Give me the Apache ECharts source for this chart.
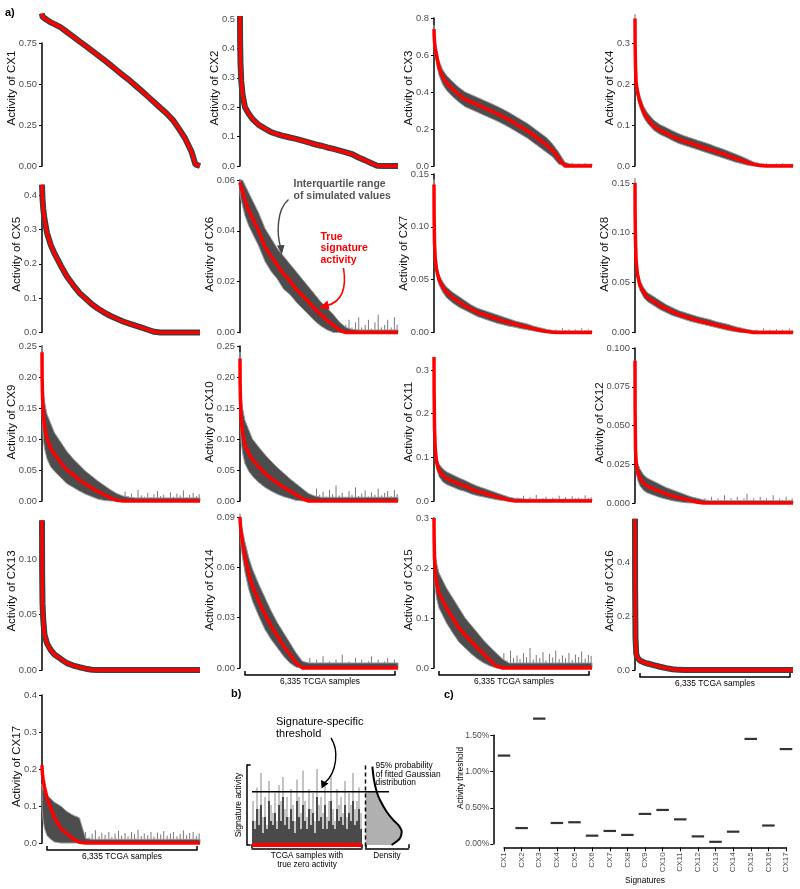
<!DOCTYPE html>
<html><head><meta charset="utf-8">
<script src="https://cdn.jsdelivr.net/npm/echarts@6/dist/echarts.min.js"></script>
<style>html,body{margin:0;padding:0;background:#fff}#c{width:800px;height:889px}</style>
</head><body><div id="c"></div>
<script>
// ---------- DATA ----------
const samplePos=[0,5,20,50,100,200,350,500,750,1000,1250,1500,1750,2000,2250,2500,2750,3000,3250,3500,3750,4000,4250,4500,4750,5000,5250,5500,5750,6000,6150,6335];
const spikePos=[1230,1370,1480,1620,1750,1890,2010,2140,2290,2400,2530,2680,2800,2930,3070,3190,3330,3450,3590,3710,3850,3980,4100,4240,4370,4490,4630,4760,4880,5020,5150,5270,5410,5540,5670,5800,5920,6060,6190,6300];

const cx1Red=[0.93,0.92,0.91,0.905,0.9,0.89,0.876,0.865,0.845,0.817,0.789,0.76,0.732,0.703,0.675,0.645,0.615,0.584,0.553,0.523,0.49,0.457,0.423,0.389,0.354,0.32,0.28,0.225,0.165,0.085,0.01,0];
const cx2Red=[0.51,0.42,0.35,0.29,0.245,0.2,0.178,0.16,0.14,0.127,0.115,0.108,0.102,0.097,0.092,0.086,0.08,0.074,0.069,0.063,0.058,0.052,0.046,0.04,0.029,0.02,0.01,0.001,0,0,0,0];
const cx3Red=[0.74,0.71,0.67,0.63,0.6,0.53,0.48,0.45,0.415,0.385,0.36,0.345,0.33,0.315,0.3,0.285,0.268,0.25,0.23,0.21,0.19,0.165,0.14,0.115,0.085,0.04,0,0,0,0,0,0];
const cx3Up=[0.76,0.74,0.7,0.67,0.64,0.57,0.52,0.49,0.455,0.425,0.4,0.385,0.37,0.355,0.34,0.325,0.308,0.29,0.27,0.25,0.23,0.205,0.18,0.155,0.12,0.075,0.02,0.01,0.01,0.01,0.01,0.01];
const cx3Lo=[0.72,0.68,0.64,0.59,0.56,0.49,0.44,0.41,0.375,0.345,0.32,0.305,0.29,0.275,0.26,0.245,0.228,0.21,0.19,0.17,0.15,0.125,0.1,0.075,0.05,0.01,0,0,0,0,0,0];
const cx4Red=[0.36,0.3,0.24,0.2,0.18,0.155,0.13,0.115,0.097,0.087,0.08,0.072,0.065,0.06,0.055,0.05,0.045,0.04,0.035,0.03,0.025,0.019,0.014,0.009,0.004,0.001,0,0,0,0,0,0];
const cx4Up=[0.37,0.32,0.26,0.215,0.195,0.17,0.145,0.13,0.112,0.101,0.094,0.086,0.079,0.073,0.068,0.063,0.058,0.053,0.047,0.042,0.036,0.03,0.024,0.017,0.01,0.006,0.004,0.004,0.004,0.004,0.004,0.004];
const cx4Lo=[0.35,0.28,0.22,0.185,0.165,0.142,0.118,0.104,0.087,0.077,0.07,0.062,0.055,0.05,0.045,0.04,0.035,0.03,0.025,0.02,0.015,0.01,0.006,0.002,0,0,0,0,0,0,0,0];
const cx5Red=[0.43,0.42,0.39,0.36,0.33,0.29,0.255,0.23,0.195,0.163,0.138,0.115,0.099,0.082,0.069,0.058,0.048,0.04,0.032,0.026,0.02,0.014,0.008,0.002,0,0,0,0,0,0,0,0];
const cx6Red=[0.059,0.0585,0.058,0.057,0.0555,0.052,0.048,0.045,0.04,0.0337,0.03,0.0265,0.023,0.0205,0.017,0.0145,0.012,0.0092,0.007,0.0047,0.0028,0.0008,0,0,0,0,0,0,0,0,0,0];
const cx6Up=[0.06,0.06,0.06,0.06,0.06,0.058,0.055,0.052,0.047,0.041,0.037,0.033,0.03,0.027,0.024,0.021,0.018,0.015,0.012,0.0095,0.007,0.004,0.002,0.0012,0.001,0.001,0.001,0.001,0.001,0.001,0.001,0.001];
const cx6Lo=[0.056,0.054,0.053,0.052,0.05,0.046,0.042,0.039,0.034,0.028,0.024,0.021,0.017,0.015,0.012,0.0095,0.007,0.0045,0.0025,0.001,0,0,0,0,0,0,0,0,0,0,0,0];
const cx7Red=[0.14,0.11,0.085,0.07,0.06,0.05,0.043,0.038,0.033,0.029,0.025,0.022,0.019,0.017,0.015,0.013,0.011,0.0095,0.008,0.0065,0.005,0.0035,0.0022,0.001,0.0003,0,0,0,0,0,0,0];
const cx7Up=[0.145,0.115,0.09,0.075,0.065,0.055,0.048,0.043,0.038,0.034,0.03,0.026,0.023,0.021,0.019,0.017,0.015,0.013,0.011,0.0095,0.008,0.006,0.0045,0.003,0.002,0.0015,0.0015,0.0015,0.0015,0.0015,0.0015,0.0015];
const cx7Lo=[0.135,0.105,0.08,0.065,0.055,0.045,0.038,0.033,0.028,0.024,0.021,0.018,0.015,0.013,0.011,0.009,0.0075,0.006,0.005,0.0035,0.0025,0.0015,0.0005,0,0,0,0,0,0,0,0,0];
const cx8Red=[0.15,0.12,0.09,0.07,0.058,0.047,0.04,0.035,0.031,0.027,0.024,0.021,0.018,0.016,0.014,0.012,0.0105,0.009,0.0075,0.006,0.0045,0.003,0.002,0.001,0,0,0,0,0,0,0,0];
const cx8Up=[0.155,0.125,0.095,0.075,0.063,0.052,0.045,0.04,0.036,0.032,0.028,0.025,0.022,0.02,0.018,0.016,0.0145,0.013,0.011,0.0095,0.008,0.006,0.0045,0.003,0.002,0.0015,0.0015,0.0015,0.0015,0.0015,0.0015,0.0015];
const cx8Lo=[0.145,0.115,0.085,0.065,0.053,0.042,0.035,0.031,0.027,0.023,0.02,0.017,0.015,0.013,0.011,0.0095,0.008,0.0065,0.005,0.0035,0.002,0.001,0,0,0,0,0,0,0,0,0,0];
const cx9Red=[0.24,0.2,0.17,0.14,0.12,0.1,0.085,0.075,0.062,0.05,0.042,0.034,0.027,0.021,0.015,0.01,0.005,0.001,0,0,0,0,0,0,0,0,0,0,0,0,0,0];
const cx9Up=[0.25,0.22,0.2,0.18,0.16,0.14,0.125,0.11,0.095,0.08,0.068,0.058,0.048,0.04,0.032,0.025,0.018,0.012,0.008,0.006,0.005,0.005,0.005,0.005,0.005,0.005,0.005,0.005,0.005,0.005,0.005,0.005];
const cx9Lo=[0.22,0.17,0.13,0.1,0.085,0.068,0.055,0.048,0.038,0.028,0.022,0.016,0.011,0.007,0.003,0.001,0,0,0,0,0,0,0,0,0,0,0,0,0,0,0,0];
const cx10Red=[0.23,0.19,0.16,0.13,0.11,0.09,0.077,0.067,0.055,0.044,0.036,0.029,0.022,0.016,0.01,0.004,0,0,0,0,0,0,0,0,0,0,0,0,0,0,0,0];
const cx10Up=[0.24,0.21,0.19,0.17,0.15,0.13,0.115,0.1,0.087,0.075,0.064,0.054,0.045,0.036,0.028,0.02,0.012,0.008,0.006,0.006,0.006,0.006,0.006,0.006,0.006,0.006,0.006,0.006,0.006,0.006,0.006,0.006];
const cx10Lo=[0.21,0.16,0.12,0.095,0.078,0.06,0.048,0.04,0.03,0.022,0.016,0.011,0.007,0.004,0.001,0,0,0,0,0,0,0,0,0,0,0,0,0,0,0,0,0];
const cx11Red=[0.33,0.25,0.17,0.12,0.09,0.07,0.058,0.052,0.045,0.039,0.034,0.027,0.022,0.018,0.014,0.01,0.006,0.002,0,0,0,0,0,0,0,0,0,0,0,0,0,0];
const cx11Up=[0.33,0.26,0.18,0.135,0.105,0.085,0.074,0.067,0.06,0.053,0.047,0.04,0.034,0.029,0.024,0.019,0.014,0.009,0.006,0.005,0.004,0.004,0.004,0.004,0.004,0.004,0.004,0.004,0.004,0.004,0.004,0.004];
const cx11Lo=[0.32,0.24,0.16,0.105,0.075,0.056,0.044,0.038,0.032,0.026,0.022,0.016,0.012,0.009,0.006,0.003,0.001,0,0,0,0,0,0,0,0,0,0,0,0,0,0,0];
const cx12Red=[0.092,0.06,0.035,0.025,0.02,0.016,0.0125,0.011,0.009,0.0075,0.0058,0.0045,0.0035,0.0025,0.0015,0.0005,0,0,0,0,0,0,0,0,0,0,0,0,0,0,0,0];
const cx12Up=[0.092,0.062,0.04,0.031,0.026,0.022,0.018,0.016,0.014,0.012,0.01,0.0085,0.007,0.0055,0.004,0.003,0.002,0.0015,0.0015,0.0015,0.0015,0.0015,0.0015,0.0015,0.0015,0.0015,0.0015,0.0015,0.0015,0.0015,0.0015,0.0015];
const cx12Lo=[0.09,0.058,0.03,0.02,0.015,0.011,0.008,0.0065,0.005,0.0035,0.0025,0.0015,0.0008,0.0002,0,0,0,0,0,0,0,0,0,0,0,0,0,0,0,0,0,0];
const cx13Red=[0.135,0.09,0.06,0.045,0.032,0.024,0.018,0.014,0.01,0.0062,0.004,0.0025,0.0012,0.0003,0,0,0,0,0,0,0,0,0,0,0,0,0,0,0,0,0,0];
const cx14Red=[0.09,0.088,0.085,0.08,0.075,0.066,0.056,0.049,0.04,0.032,0.025,0.019,0.013,0.008,0.003,0,0,0,0,0,0,0,0,0,0,0,0,0,0,0,0,0];
const cx14Up=[0.092,0.09,0.088,0.085,0.082,0.075,0.066,0.059,0.05,0.042,0.034,0.027,0.021,0.015,0.009,0.004,0.003,0.003,0.003,0.003,0.003,0.003,0.003,0.003,0.003,0.003,0.003,0.003,0.003,0.003,0.003,0.003];
const cx14Lo=[0.085,0.082,0.078,0.072,0.066,0.057,0.047,0.04,0.031,0.023,0.017,0.012,0.007,0.003,0.0005,0,0,0,0,0,0,0,0,0,0,0,0,0,0,0,0,0];
const cx15Red=[0.3,0.26,0.22,0.19,0.17,0.15,0.135,0.12,0.1,0.08,0.066,0.053,0.04,0.028,0.015,0.004,0,0,0,0,0,0,0,0,0,0,0,0,0,0,0,0];
const cx15Up=[0.3,0.28,0.25,0.23,0.21,0.19,0.175,0.16,0.14,0.12,0.1,0.085,0.07,0.055,0.042,0.03,0.018,0.01,0.01,0.01,0.01,0.01,0.01,0.01,0.01,0.01,0.01,0.01,0.01,0.01,0.01,0.01];
const cx15Lo=[0.29,0.24,0.19,0.16,0.14,0.12,0.105,0.09,0.07,0.052,0.04,0.028,0.018,0.01,0.004,0,0,0,0,0,0,0,0,0,0,0,0,0,0,0,0,0];
const cx16Red=[0.56,0.3,0.12,0.06,0.045,0.035,0.028,0.024,0.018,0.012,0.007,0.003,0.0005,0,0,0,0,0,0,0,0,0,0,0,0,0,0,0,0,0,0,0];
const cx17Red=[0.21,0.2,0.185,0.17,0.152,0.122,0.095,0.068,0.04,0.025,0.011,0.002,0,0,0,0,0,0,0,0,0,0,0,0,0,0,0,0,0,0,0,0];
const cx17Up=[0.16,0.155,0.15,0.145,0.14,0.13,0.12,0.11,0.1,0.085,0.075,0.068,0.012,0.01,0.01,0.01,0.01,0.01,0.01,0.01,0.01,0.01,0.01,0.01,0.01,0.01,0.01,0.01,0.01,0.01,0.01,0.01];
const cx17Lo=[0.1,0.09,0.08,0.06,0.04,0.02,0.01,0.003,0,0,0,0,0,0,0,0,0,0,0,0,0,0,0,0,0,0,0,0,0,0,0,0];

// tail spikes (heights at spikePos)
const cx3Spk=[0,0,0,0,0,0,0,0,0,0,0,0,0,0,0,0,0,0,0,0,0,0,0,0,0,0,0,0,0,0,0,0.012,0.008,0.018,0.006,0.014,0.01,0.016,0.007,0.011];
const cx4Spk=[0,0,0,0,0,0,0,0,0,0,0,0,0,0,0,0,0,0,0,0,0,0,0,0,0,0,0,0,0,0.006,0.004,0.007,0.003,0.005,0.006,0.004,0.007,0.003,0.005,0.004];
const cx6Spk=[0,0,0,0,0,0,0,0,0,0,0,0,0,0,0,0,0,0,0,0,0,0,0,0.003,0.005,0.002,0.004,0.006,0.002,0.003,0.005,0.0015,0.004,0.007,0.002,0.003,0.005,0.002,0.006,0.003];
const cx7Spk=[0,0,0,0,0,0,0,0,0,0,0,0,0,0,0,0,0,0,0,0,0,0,0,0,0,0,0,0,0.003,0.002,0.004,0.002,0.003,0.0015,0.003,0.002,0.004,0.002,0.003,0.002];
const cx8Spk=[0,0,0,0,0,0,0,0,0,0,0,0,0,0,0,0,0,0,0,0,0,0,0,0,0,0,0,0.002,0.003,0.0015,0.004,0.002,0.003,0.002,0.0035,0.0015,0.003,0.002,0.004,0.002];
const cx9Spk=[0,0,0,0,0,0,0,0,0,0,0,0,0,0,0.01,0.006,0.015,0.008,0.012,0.005,0.018,0.009,0.007,0.013,0.006,0.011,0.016,0.008,0.01,0.005,0.014,0.007,0.012,0.009,0.017,0.006,0.01,0.013,0.008,0.011];
const cx10Spk=[0,0,0,0,0,0,0,0,0,0,0,0,0.012,0.008,0.02,0.01,0.015,0.007,0.018,0.011,0.025,0.009,0.013,0.006,0.016,0.01,0.022,0.008,0.012,0.017,0.007,0.014,0.01,0.02,0.009,0.013,0.016,0.008,0.018,0.011];
const cx11Spk=[0,0,0,0,0,0,0,0,0,0,0,0,0,0,0,0,0.008,0.005,0.012,0.004,0.009,0.006,0.014,0.005,0.007,0.01,0.004,0.008,0.006,0.012,0.005,0.009,0.004,0.011,0.006,0.008,0.005,0.013,0.007,0.009];
const cx12Spk=[0,0,0,0,0,0,0,0,0,0,0,0,0.003,0.002,0.004,0.0015,0.003,0.002,0.005,0.002,0.003,0.0015,0.004,0.002,0.003,0.006,0.002,0.003,0.0015,0.004,0.002,0.003,0.002,0.005,0.0015,0.003,0.002,0.004,0.002,0.003];
const cx14Spk=[0,0,0,0,0,0,0,0,0,0,0.004,0.002,0.006,0.003,0.005,0.002,0.007,0.003,0.004,0.002,0.005,0.003,0.008,0.002,0.004,0.003,0.006,0.002,0.005,0.003,0.004,0.007,0.002,0.005,0.003,0.004,0.006,0.002,0.005,0.003];
const cx15Spk=[0,0,0,0,0,0,0,0,0,0,0,0.02,0.03,0.015,0.035,0.02,0.025,0.018,0.03,0.022,0.04,0.017,0.026,0.02,0.032,0.015,0.028,0.021,0.035,0.018,0.025,0.02,0.03,0.016,0.027,0.022,0.033,0.019,0.026,0.024];
const cx16Spk=[0,0,0,0,0.004,0,0.006,0,0.003,0,0,0.005,0,0.004,0,0.003,0,0.006,0,0,0.004,0,0.005,0,0.003,0,0,0.006,0,0.004,0,0.005,0,0,0.003,0,0.007,0,0.004,0];
const cx17Spk=[0,0,0,0.02,0.03,0.015,0.025,0.035,0.018,0.028,0.022,0.03,0.016,0.025,0.033,0.02,0.027,0.018,0.03,0.024,0.036,0.019,0.026,0.021,0.03,0.017,0.028,0.023,0.032,0.02,0.026,0.03,0.018,0.025,0.034,0.021,0.027,0.03,0.019,0.026];

// panel b (schematic)
const bLight=[0.55,0.3,0.72,0.45,0.9,0.35,0.6,0.25,0.8,0.5,0.4,0.65,0.3,0.75,0.55,0.85,0.45,0.6,0.35,0.7,0.5,0.3,0.82,0.6,0.4,0.93,0.55,0.35,0.7,0.45,0.65,0.3,0.95,0.5,0.6,0.4,0.75,0.35,0.55,0.86,0.45,0.3,0.7,0.5,0.6,0.4,0.8,0.35,0.65,0.5,0.9,0.45,0.55,0.72,0.4];
const bDark=[0.3,0.2,0.45,0.25,0.5,0.15,0.35,0.2,0.55,0.3,0.25,0.4,0.2,0.5,0.3,0.6,0.25,0.35,0.2,0.45,0.3,0.15,0.55,0.35,0.2,0.5,0.3,0.2,0.45,0.25,0.4,0.15,0.6,0.3,0.35,0.2,0.5,0.2,0.3,0.55,0.25,0.2,0.45,0.3,0.35,0.25,0.5,0.2,0.4,0.3,0.55,0.25,0.3,0.45,0.2];
const bThreshold=0.666;
const densAct=[0,0.084,0.166,0.25,0.31,0.416,0.5625,0.666,0.8125,0.98];
const densVal=[0.72,0.95,1.0,0.906,0.77,0.585,0.40,0.31,0.235,0.19];

// panel c
const sigNames=['CX1','CX2','CX3','CX4','CX5','CX6','CX7','CX8','CX9','CX10','CX11','CX12','CX13','CX14','CX15','CX16','CX17'];
const thresholds=[1.22,0.22,1.73,0.29,0.30,0.115,0.18,0.125,0.415,0.47,0.34,0.105,0.03,0.17,1.45,0.255,1.31];

// ---------- LAYOUT ----------
const panels=[
 {name:'CX1',red:cx1Red},
 {name:'CX2',red:cx2Red},
 {name:'CX3',red:cx3Red,up:cx3Up,lo:cx3Lo,spk:cx3Spk},
 {name:'CX4',red:cx4Red,up:cx4Up,lo:cx4Lo,spk:cx4Spk},
 {name:'CX5',red:cx5Red},
 {name:'CX6',red:cx6Red,up:cx6Up,lo:cx6Lo,spk:cx6Spk},
 {name:'CX7',red:cx7Red,up:cx7Up,lo:cx7Lo,spk:cx7Spk},
 {name:'CX8',red:cx8Red,up:cx8Up,lo:cx8Lo,spk:cx8Spk},
 {name:'CX9',red:cx9Red,up:cx9Up,lo:cx9Lo,spk:cx9Spk},
 {name:'CX10',red:cx10Red,up:cx10Up,lo:cx10Lo,spk:cx10Spk},
 {name:'CX11',red:cx11Red,up:cx11Up,lo:cx11Lo,spk:cx11Spk},
 {name:'CX12',red:cx12Red,up:cx12Up,lo:cx12Lo,spk:cx12Spk},
 {name:'CX13',red:cx13Red},
 {name:'CX14',red:cx14Red,up:cx14Up,lo:cx14Lo,spk:cx14Spk},
 {name:'CX15',red:cx15Red,up:cx15Up,lo:cx15Lo,spk:cx15Spk},
 {name:'CX16',red:cx16Red,spk:cx16Spk},
 {name:'CX17',red:cx17Red,up:cx17Up,lo:cx17Lo,spk:cx17Spk}
];
// col,rowTop,bottom,tickTop,tickMax,step,decimals,bracket
const panelLayout=[
 [0,10,166,43,0.75,0.25,2,0],[1,10,166,19,0.5,0.1,1,0],[2,10,166,18,0.8,0.2,1,0],[3,10,166,43,0.3,0.1,1,0],
 [0,176,332.5,195,0.4,0.1,1,0],[1,176,332.5,180,0.06,0.02,2,0],[2,176,332.5,174,0.15,0.05,2,0],[3,176,332.5,183,0.15,0.05,2,0],
 [0,343,501,346,0.25,0.05,2,0],[1,343,501,346,0.25,0.05,2,0],[2,343,501,370,0.3,0.1,1,0],[3,343,503,348,0.1,0.025,3,0],
 [0,512,670,559,0.1,0.05,2,0],[1,512,668,517,0.09,0.03,2,1],[2,512,668,518,0.3,0.1,1,1],[3,512,670,562,0.4,0.2,1,1],
 [0,690,843,695,0.4,0.1,1,1]
];
const colLeft=[42,240,434,635];
const PW=158;
const FONT='"Liberation Sans", Arial, sans-serif';
const AXC='#000', LBL='#4d4d4d';

const grid=[],xAxis=[],yAxis=[],series=[];
function G(g){g.outerBoundsMode='none';g.containLabel=false;grid.push(g);return grid.length-1;}
function X(a){xAxis.push(a);return xAxis.length-1;}
function Y(a){yAxis.push(a);return yAxis.length-1;}
const H0={show:false};
const line=(w)=>({show:true,onZero:false,lineStyle:{color:AXC,width:w||1.5}});

panels.forEach((p,k)=>{
  const [col,rowTop,bottom,tickTop,tickMax,step,dec,bracket]=panelLayout[k];
  const left=colLeft[col];
  const top=Math.min(rowTop,tickTop);
  const H=bottom-top;
  const yMax=tickMax*H/(bottom-tickTop);
  const gd=G({left,top,width:PW,height:H});
  const xd=X({gridIndex:gd,type:'value',min:0,max:6335,show:false});
  const yd=Y({gridIndex:gd,type:'value',min:0,max:yMax,axisLine:H0,axisTick:H0,axisLabel:H0,splitLine:H0,
    name:'Activity of '+p.name,nameLocation:'middle',nameGap:[0,19.5,24.5,29][dec],
    nameTextStyle:{color:'#111',fontSize:11.5,fontFamily:FONT}});
  const ga=G({left,top:tickTop,width:PW,height:bottom-tickTop});
  X({gridIndex:ga,type:'value',min:0,max:6335,show:false});
  Y({gridIndex:ga,type:'value',min:0,max:tickMax,interval:step,axisLine:line(1.5),
    axisTick:{show:true,length:3,lineStyle:{color:AXC,width:1}},
    axisLabel:{show:true,formatter:v=>v.toFixed(dec),color:LBL,fontSize:9.4,fontFamily:FONT,margin:5},
    splitLine:H0});
  if(bracket){
    const gb=G({left:left+5,top:bottom-10,width:PW-8,height:10});
    X({gridIndex:gb,type:'value',min:0,max:6335,interval:6335,position:'bottom',offset:7,axisLine:line(1.5),
      axisTick:{show:true,inside:true,length:4,lineStyle:{color:AXC,width:1.5}},axisLabel:H0,splitLine:H0,
      name:'6,335 TCGA samples',nameLocation:'middle',nameGap:3,nameTextStyle:{color:'#000',fontSize:8.4,fontFamily:FONT}});
    Y({gridIndex:gb,type:'value',show:false});
  }
  if(p.spk){
    series.push({type:'custom',xAxisIndex:xd,yAxisIndex:yd,silent:true,z:1,
      data:spikePos.map((x,i)=>[x,p.spk[i]]).filter(d=>d[1]>0),
      renderItem:(params,api)=>{const a=api.coord([api.value(0),0]);const b=api.coord([api.value(0),api.value(1)]);
        return {type:'line',shape:{x1:a[0],y1:a[1],x2:b[0],y2:b[1]},style:{stroke:'#7a7a7a',lineWidth:1}};}});
  }
  if(p.up){
    series.push({type:'custom',xAxisIndex:xd,yAxisIndex:yd,silent:true,z:2,data:[[0,0]],
      renderItem:(params,api)=>{const pts=[];
        samplePos.forEach((x,i)=>pts.push(api.coord([x,p.up[i]])));
        for(let i=samplePos.length-1;i>=0;i--)pts.push(api.coord([samplePos[i],p.lo[i]]));
        return {type:'polygon',shape:{points:pts},style:{fill:'#4d4d4d',stroke:'#9a9a9a',lineWidth:1}};}});
  }
  const pts=samplePos.map((x,i)=>[x,p.red[i]]);
  if(!p.up){
    series.push({type:'line',xAxisIndex:xd,yAxisIndex:yd,data:pts,symbol:'none',silent:true,z:3,clip:false,
      lineStyle:{color:'#2f4444',width:6}});
  }
  series.push({type:'line',xAxisIndex:xd,yAxisIndex:yd,data:pts,symbol:'none',silent:true,z:4,clip:false,
    lineStyle:{color:'#ff0000',width:3.5}});
});

// ---------- panel b ----------
const gB=G({left:252,top:765,width:110,height:80});
const xBc=X({gridIndex:gB,type:'category',data:bLight.map((_,i)=>i),show:false,boundaryGap:true,position:'bottom'});
const xBv=X({gridIndex:gB,type:'value',min:0,max:1,interval:1,position:'bottom',offset:3.3,axisLine:line(1.5),
  axisTick:{show:true,inside:true,length:4,lineStyle:{color:AXC,width:1.5}},axisLabel:H0,splitLine:H0,
  name:'TCGA samples with\ntrue zero activity',nameLocation:'middle',nameGap:3,
  nameTextStyle:{color:'#000',fontSize:8.2,lineHeight:9,fontFamily:FONT}});
const yB=Y({gridIndex:gB,type:'value',min:0,max:1,interval:1,offset:5.3,axisLine:line(1.5),
  axisTick:{show:true,inside:true,length:4,lineStyle:{color:AXC,width:1.5}},axisLabel:H0,splitLine:H0,
  name:'Signature activity',nameLocation:'middle',nameGap:4,nameTextStyle:{color:'#000',fontSize:8.5,fontFamily:FONT}});
series.push({type:'bar',xAxisIndex:xBc,yAxisIndex:yB,data:bLight,barWidth:2,barGap:'-100%',itemStyle:{color:'#c4c4c4'},silent:true});
series.push({type:'bar',xAxisIndex:xBc,yAxisIndex:yB,data:bDark,barWidth:2,barGap:'-100%',itemStyle:{color:'#4a4a4a'},silent:true});
series.push({type:'line',xAxisIndex:xBv,yAxisIndex:yB,data:[[0,0],[1,0]],symbol:'none',clip:false,lineStyle:{color:'#ff0000',width:4},z:4});

const gT=G({left:252,top:765,width:137,height:80});
const xT=X({gridIndex:gT,type:'value',min:0,max:1,show:false});
const yT=Y({gridIndex:gT,type:'value',min:0,max:1,show:false});
series.push({type:'line',xAxisIndex:xT,yAxisIndex:yT,data:[[0,bThreshold],[1,bThreshold]],symbol:'none',lineStyle:{color:'#000',width:1.5},z:6});

const gD=G({left:365.5,top:765,width:43,height:80});
const xD=X({gridIndex:gD,type:'value',min:0,max:1.188,interval:1.188,position:'bottom',offset:3.3,axisLine:line(1.5),
  axisTick:{show:true,inside:true,length:4,lineStyle:{color:AXC,width:1.5}},axisLabel:H0,splitLine:H0,
  name:'Density',nameLocation:'middle',nameGap:3,nameTextStyle:{color:'#000',fontSize:8.2,fontFamily:FONT}});
const yD=Y({gridIndex:gD,type:'value',min:0,max:1,show:false});
series.push({type:'custom',xAxisIndex:xD,yAxisIndex:yD,silent:true,z:2,data:[[0,0]],
  renderItem:(params,api)=>{const pts=[api.coord([0,0])];
    densAct.forEach((a,i)=>{if(a<=bThreshold)pts.push(api.coord([densVal[i],a]));});
    pts.push(api.coord([0,bThreshold]));
    return {type:'polygon',shape:{points:pts},style:{fill:'#b0b0b0'}};}});
series.push({type:'line',xAxisIndex:xD,yAxisIndex:yD,data:densAct.map((a,i)=>[densVal[i],a]),symbol:'none',smooth:0.3,clip:false,
  lineStyle:{color:'#000',width:2},z:5});
series.push({type:'line',xAxisIndex:xD,yAxisIndex:yD,data:[[0,-0.02],[0,1]],symbol:'none',clip:false,
  lineStyle:{color:'#000',width:1.5,type:[4,3]},z:5});

// ---------- panel c ----------
const cBottom=844, cTickTop=735.3, cTop=712;
const gC=G({left:504,top:cTop,width:282,height:cBottom-cTop});
const xC=X({gridIndex:gC,type:'value',min:0,max:16,show:false});
const yC=Y({gridIndex:gC,type:'value',min:0,max:1.5*(cBottom-cTop)/(cBottom-cTickTop),axisLine:H0,axisTick:H0,axisLabel:H0,splitLine:H0,
  name:'Activity threshold',nameLocation:'middle',nameGap:39,nameTextStyle:{color:'#000',fontSize:8.2,fontFamily:FONT}});
series.push({type:'scatter',xAxisIndex:xC,yAxisIndex:yC,data:thresholds.map((v,i)=>[i,v]),symbol:'rect',symbolSize:[12.5,2.2],
  itemStyle:{color:'#000'},clip:false,silent:true});
const gCa=G({left:504,top:cTickTop,width:282,height:cBottom-cTickTop});
X({gridIndex:gCa,type:'value',min:0,max:16,interval:1,position:'bottom',offset:3.3,axisLine:line(1.5),
  axisTick:{show:true,length:4,lineStyle:{color:AXC,width:1}},
  axisLabel:{formatter:v=>sigNames[v]||'',rotate:90,fontSize:8,color:LBL,fontFamily:FONT,margin:5},splitLine:H0,
  name:'Signatures',nameLocation:'middle',nameGap:27,nameTextStyle:{color:'#000',fontSize:8.4,fontFamily:FONT}});
Y({gridIndex:gCa,type:'value',min:0,max:1.5,interval:0.5,offset:10.7,axisLine:line(1.5),
  axisTick:{show:true,length:3,lineStyle:{color:AXC,width:1}},
  axisLabel:{formatter:v=>v.toFixed(2)+'%',fontSize:8.5,color:LBL,fontFamily:FONT,margin:4},splitLine:H0});

// ---------- annotations ----------
const graphic=[
 {type:'text',x:5,y:13,z:100,style:{text:'a)',font:'bold 11px '+FONT,fill:'#000',verticalAlign:'middle'}},
 {type:'text',x:231,y:694,z:100,style:{text:'b)',font:'bold 11px '+FONT,fill:'#000',verticalAlign:'middle'}},
 {type:'text',x:444,y:695,z:100,style:{text:'c)',font:'bold 11px '+FONT,fill:'#000',verticalAlign:'middle'}},
 {type:'text',x:293.5,y:178.5,z:100,style:{text:'Interquartile range\nof simulated values',font:'bold 10.5px '+FONT,fill:'#555555',lineHeight:11.5}},
 {type:'bezierCurve',z:100,shape:{x1:288.5,y1:199.5,cpx1:276,cpy1:210,cpx2:277,cpy2:235,x2:280.5,y2:247},style:{stroke:'#444',lineWidth:1.4,fill:null}},
 {type:'polygon',z:100,shape:{points:[[281.8,254.5],[277,245.5],[284.5,245]]},style:{fill:'#444'}},
 {type:'text',x:320.5,y:231,z:100,style:{text:'True\nsignature\nactivity',font:'bold 10.5px '+FONT,fill:'#ff0000',lineHeight:11.7}},
 {type:'bezierCurve',z:100,shape:{x1:343.5,y1:268,cpx1:347,cpy1:290,cpx2:341,cpy2:302,x2:327,y2:305.5},style:{stroke:'#ff0000',lineWidth:1.5,fill:null}},
 {type:'polygon',z:100,shape:{points:[[319,308],[327.5,300.5],[329.5,309.5]]},style:{fill:'#ff0000'}},
 {type:'text',x:276,y:716.5,z:100,style:{text:'Signature-specific\nthreshold',font:'11px '+FONT,fill:'#000',lineHeight:11.5}},
 {type:'bezierCurve',z:100,shape:{x1:331,y1:738,cpx1:339,cpy1:750,cpx2:337,cpy2:772,x2:325,y2:782.5},style:{stroke:'#000',lineWidth:1.4,fill:null}},
 {type:'polygon',z:100,shape:{points:[[321.5,788.5],[321,780],[328.5,783.5]]},style:{fill:'#000'}},
 {type:'text',x:375.5,y:762,z:100,style:{text:'95% probability\nof fitted Gaussian\ndistribution',font:'8.4px '+FONT,fill:'#000',lineHeight:8.3}}
];

const chart=echarts.init(document.getElementById('c'),null,{renderer:'canvas'});
chart.setOption({animation:false,backgroundColor:'#fff',textStyle:{fontFamily:FONT},grid,xAxis,yAxis,series,graphic});
</script></body></html>
